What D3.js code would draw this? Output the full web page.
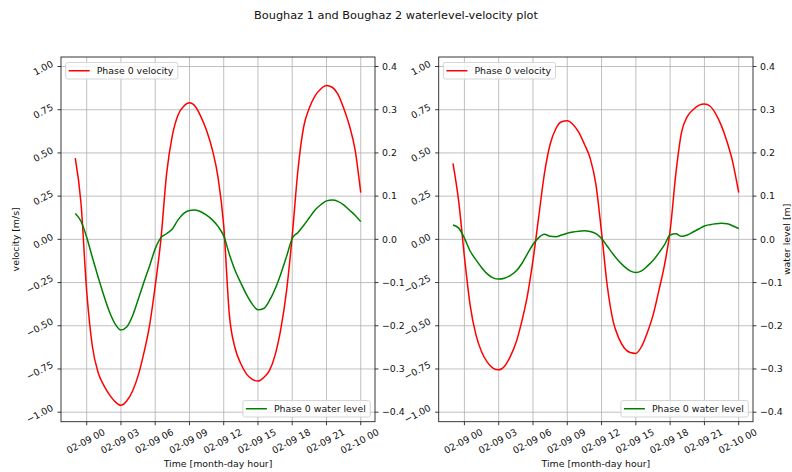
<!DOCTYPE html>
<html><head><meta charset="utf-8">
<script src="https://cdn.jsdelivr.net/npm/d3@7"></script>
<style>
body{margin:0;background:#fff;}
text{font-family:"DejaVu Sans",sans-serif;fill:#111;}
</style>
</head><body>
<svg id="chart" width="792" height="472"></svg>
<script>
const chartTitle = "Boughaz 1 and Boughaz 2 waterlevel-velocity plot";
const xAxisLabel = "Time [month-day hour]";
const leftAxisLabel = "velocity [m/s]";
const rightAxisLabel = "water level [m]";
const legendVelocity = "Phase 0 velocity";
const legendWater = "Phase 0 water level";

// hours relative to 02-09 00:00
const hours = [-1,-0.5,0,0.5,1,1.5,2,2.5,3,3.5,4,4.5,5,5.5,6,6.5,7,7.5,8,8.5,9,9.5,10,10.5,11,11.5,12,12.5,13,13.5,14,14.5,15,15.5,16,16.5,17,17.5,18,18.5,19,19.5,20,20.5,21,21.5,22,22.5,23,23.5,24];

// Boughaz 1
const velocity1 = [0.47,0.21,-0.30,-0.62,-0.77,-0.845,-0.90,-0.94,-0.96,-0.935,-0.88,-0.79,-0.66,-0.50,-0.27,0.00,0.38,0.60,0.72,0.77,0.79,0.77,0.71,0.63,0.52,0.36,0.08,-0.44,-0.63,-0.72,-0.78,-0.81,-0.82,-0.80,-0.76,-0.67,-0.52,-0.30,0.02,0.40,0.65,0.76,0.83,0.87,0.89,0.88,0.84,0.76,0.66,0.52,0.27];
const water1 = [0.060,0.042,0.005,-0.042,-0.087,-0.130,-0.168,-0.196,-0.210,-0.203,-0.178,-0.140,-0.100,-0.062,-0.022,0.004,0.013,0.024,0.045,0.060,0.067,0.068,0.064,0.056,0.045,0.030,0.008,-0.035,-0.072,-0.101,-0.128,-0.150,-0.163,-0.160,-0.142,-0.115,-0.080,-0.040,0.002,0.016,0.032,0.050,0.068,0.080,0.089,0.091,0.088,0.080,0.068,0.056,0.041];

// Boughaz 2
const velocity2 = [0.44,0.22,-0.10,-0.38,-0.55,-0.65,-0.71,-0.745,-0.755,-0.735,-0.68,-0.60,-0.48,-0.33,-0.12,0.13,0.38,0.55,0.64,0.68,0.686,0.665,0.62,0.55,0.47,0.32,0.04,-0.27,-0.47,-0.57,-0.63,-0.655,-0.66,-0.62,-0.54,-0.44,-0.30,-0.15,0.05,0.38,0.62,0.71,0.75,0.775,0.783,0.77,0.725,0.655,0.56,0.44,0.27];
const water2 = [0.033,0.026,0.003,-0.027,-0.047,-0.065,-0.080,-0.089,-0.092,-0.090,-0.084,-0.074,-0.057,-0.034,-0.012,0.004,0.012,0.007,0.006,0.010,0.014,0.017,0.019,0.020,0.018,0.013,0.002,-0.016,-0.034,-0.050,-0.063,-0.073,-0.077,-0.073,-0.062,-0.049,-0.032,-0.013,0.010,0.013,0.007,0.010,0.017,0.024,0.031,0.034,0.036,0.037,0.036,0.031,0.025];

const velocityTicks = [-1,-0.75,-0.5,-0.25,0,0.25,0.5,0.75,1];
const waterTicks = [-0.4,-0.3,-0.2,-0.1,0,0.1,0.2,0.3,0.4];

const svg = d3.select("#chart");
const FS = 9.4;
const ROT = 28;
const rad = ROT*Math.PI/180;
const plotTop = 57, plotBottom = 421.7;
const base = new Date(2024,1,9,0,0,0);
const hr = 3600*1000;
const toDate = h => new Date(base.getTime() + h*hr);
const fmtX = d3.timeFormat("%m-%d %H");
const fmtV = d3.format(".2f");
const fmtW = d3.format(".1f");

svg.append("text").attr("x",396).attr("y",19).attr("text-anchor","middle")
  .style("font-size","11.3px").text(chartTitle);

function drawPanel(x0, x1, vel, wl, showLeftLabel, showRightLabel){
  const g = svg.append("g");
  const x = d3.scaleTime().domain([toDate(-2.25), toDate(25.25)]).range([x0,x1]);
  const yV = d3.scaleLinear().domain([-1.055,1.055]).range([plotBottom,plotTop]);
  const yW = d3.scaleLinear().domain([-0.422,0.422]).range([plotBottom,plotTop]);
  const xt = x.ticks(d3.timeHour.every(3));

  // grid
  g.append("g").selectAll("line").data(xt).join("line")
    .attr("x1",d=>x(d)).attr("x2",d=>x(d)).attr("y1",plotTop).attr("y2",plotBottom)
    .attr("stroke","#b0b0b0").attr("stroke-width",0.8);
  g.append("g").selectAll("line").data(velocityTicks).join("line")
    .attr("x1",x0).attr("x2",x1).attr("y1",d=>yV(d)).attr("y2",d=>yV(d))
    .attr("stroke","#b0b0b0").attr("stroke-width",0.8);

  const data = hours.map((h,i)=>({t:toDate(h), v:vel[i], w:wl[i]}));
  g.append("path").datum(data)
    .attr("d", d3.line().x(d=>x(d.t)).y(d=>yV(d.v)).curve(d3.curveMonotoneX))
    .attr("fill","none").attr("stroke","#ff0000").attr("stroke-width",1.5);
  g.append("path").datum(data)
    .attr("d", d3.line().x(d=>x(d.t)).y(d=>yW(d.w)).curve(d3.curveMonotoneX))
    .attr("fill","none").attr("stroke","#008000").attr("stroke-width",1.5);

  // spines
  g.append("rect").attr("x",x0).attr("y",plotTop).attr("width",x1-x0).attr("height",plotBottom-plotTop)
    .attr("fill","none").attr("stroke","#222").attr("stroke-width",0.9);

  // x ticks
  const xg = g.append("g");
  xg.selectAll("line").data(xt).join("line")
    .attr("x1",d=>x(d)).attr("x2",d=>x(d)).attr("y1",plotBottom).attr("y2",plotBottom+3.5)
    .attr("stroke","#222").attr("stroke-width",0.9);
  xg.selectAll("text").data(xt).join("text")
    .attr("text-anchor","middle").attr("dy","0.35em").style("font-size",FS+"px")
    .text(d=>fmtX(d))
    .each(function(d){
      const w = this.getComputedTextLength();
      const hgt = FS*0.75;
      const bh = w*Math.sin(rad) + hgt*Math.cos(rad);
      const cx = x(d) - 1, cy = plotBottom + 3.5 + 3 + bh/2;
      d3.select(this).attr("transform",`translate(${cx},${cy}) rotate(${-ROT})`);
    });

  // left y ticks
  const lg = g.append("g");
  lg.selectAll("line").data(velocityTicks).join("line")
    .attr("x1",x0-3.5).attr("x2",x0).attr("y1",d=>yV(d)).attr("y2",d=>yV(d))
    .attr("stroke","#222").attr("stroke-width",0.9);
  lg.selectAll("text").data(velocityTicks).join("text")
    .attr("text-anchor","middle").attr("dy","0.35em").style("font-size",FS+"px")
    .text(d=>fmtV(d))
    .each(function(d){
      const w = this.getComputedTextLength();
      const hgt = FS*0.75;
      const bw = w*Math.cos(rad) + hgt*Math.sin(rad);
      const cx = x0 - 3.5 - 3.5 - bw/2, cy = yV(d) + 1.5;
      d3.select(this).attr("transform",`translate(${cx},${cy}) rotate(${-ROT})`);
    });

  // right y ticks
  const rg = g.append("g");
  rg.selectAll("line").data(waterTicks).join("line")
    .attr("x1",x1).attr("x2",x1+3.5).attr("y1",d=>yW(d)).attr("y2",d=>yW(d))
    .attr("stroke","#222").attr("stroke-width",0.9);
  rg.selectAll("text").data(waterTicks).join("text")
    .attr("x",x1+7).attr("y",d=>yW(d)).attr("dy","0.35em").style("font-size",FS+"px")
    .text(d=>fmtW(d));

  // axis labels
  g.append("text").attr("x",(x0+x1)/2).attr("y",466.5).attr("text-anchor","middle")
    .style("font-size",FS+"px").text(xAxisLabel);
  if(showLeftLabel){
    g.append("text").attr("transform",`translate(18.5,${(plotTop+plotBottom)/2}) rotate(-90)`)
      .attr("text-anchor","middle").style("font-size",FS+"px").text(leftAxisLabel);
  }
  if(showRightLabel){
    g.append("text").attr("transform",`translate(789.5,${(plotTop+plotBottom)/2}) rotate(-90)`)
      .attr("text-anchor","middle").style("font-size",FS+"px").text(rightAxisLabel);
  }

  // legends
  function legend(label, color, corner){
    const lgd = g.append("g");
    const t = lgd.append("text").style("font-size",FS+"px").text(label);
    const tw = t.node().getComputedTextLength();
    const bw = 31 + tw + 4.5, bh = 16.5;
    const bx = corner==="ul" ? x0+4.7 : x1-4.7-bw;
    const by = corner==="ul" ? plotTop+5.5 : plotBottom-4.7-bh;
    lgd.insert("rect","text").attr("x",bx).attr("y",by).attr("width",bw).attr("height",bh)
      .attr("rx",2).attr("fill","#fff").attr("fill-opacity",0.8)
      .attr("stroke","#d0d0d0").attr("stroke-width",0.9);
    lgd.append("line").attr("x1",bx+3).attr("x2",bx+24).attr("y1",by+bh/2).attr("y2",by+bh/2)
      .attr("stroke",color).attr("stroke-width",1.5);
    t.attr("x",bx+31).attr("y",by+bh/2).attr("dy","0.35em");
  }
  legend(legendVelocity, "#ff0000", "ul");
  legend(legendWater, "#008000", "lr");
}

drawPanel(61, 375, velocity1, water1, true, false);
drawPanel(438.7, 753, velocity2, water2, false, true);
</script>
</body></html>
